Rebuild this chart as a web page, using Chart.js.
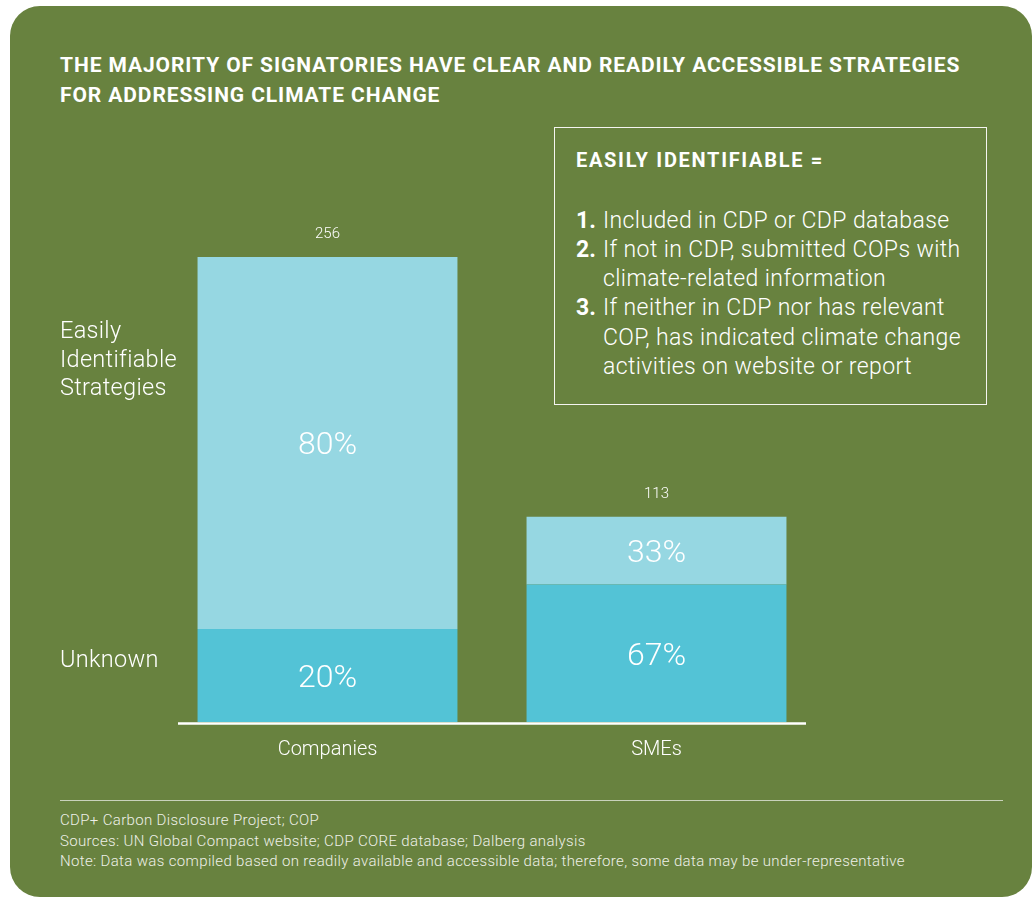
<!DOCTYPE html>
<html><head><meta charset="utf-8">
<script src="https://cdn.jsdelivr.net/npm/chart.js@4.4.1/dist/chart.umd.min.js"></script>
<style>
html,body{margin:0;padding:0;background:#fff;}
body{width:1034px;height:898px;position:relative;overflow:hidden;font-family:Roboto,"Open Sans",sans-serif;}
#panel{position:absolute;left:10px;top:6px;width:1022px;height:891px;background:#68823F;border-radius:30px;}
#title{position:absolute;left:60px;top:50px;color:#fff;font-weight:700;font-size:21px;letter-spacing:0.9px;line-height:30px;white-space:nowrap;}
#box{position:absolute;left:554px;top:127px;width:433px;height:278px;border:1.5px solid #f4f4f0;box-sizing:border-box;}
#boxtitle{position:absolute;left:576px;top:149px;color:#fff;font-weight:700;font-size:20px;letter-spacing:1.7px;line-height:22px;white-space:nowrap;}
#boxlist{position:absolute;left:576px;top:205.5px;color:#fff;font-weight:300;font-size:23px;letter-spacing:0.4px;line-height:29.3px;white-space:nowrap;}
#boxlist .n{font-weight:700;display:inline-block;width:27px;letter-spacing:0;}
#boxlist .c{padding-left:27px;}
#sep{position:absolute;left:60px;top:799.5px;width:943px;height:1.5px;background:#c9d2bb;}
#foot{position:absolute;left:60px;top:810px;color:#eef0e8;font-weight:300;font-size:15px;letter-spacing:0.35px;line-height:20.5px;white-space:nowrap;}
#wrap{position:absolute;left:0;top:0;width:1034px;height:898px;}
</style></head>
<body>
<div id="panel"></div>
<div id="title">THE MAJORITY OF SIGNATORIES HAVE CLEAR AND READILY ACCESSIBLE STRATEGIES<br>FOR ADDRESSING CLIMATE CHANGE</div>
<div id="box"></div>
<div id="boxtitle">EASILY IDENTIFIABLE =</div>
<div id="boxlist">
<div><span class="n">1.</span>Included in CDP or CDP database</div>
<div><span class="n">2.</span>If not in CDP, submitted COPs with</div>
<div class="c">climate-related information</div>
<div><span class="n">3.</span>If neither in CDP nor has relevant</div>
<div class="c">COP, has indicated climate change</div>
<div class="c">activities on website or report</div>
</div>
<div id="sep"></div>
<div id="foot">CDP+ Carbon Disclosure Project; COP<br>Sources: UN Global Compact website; CDP CORE database; Dalberg analysis<br>Note: Data was compiled based on readily available and accessible data; therefore, some data may be under-representative</div>
<div id="wrap"><canvas id="c"></canvas></div>
<script>
// ---- data ----
const categories = ['Companies', 'SMEs'];
const totals = [256, 113];
const unknownPct = [20, 67];
const easilyPct = [80, 33];
const seriesLabelLines = [['Unknown'], ['Easily', 'Identifiable', 'Strategies']];
const seriesNames = ['Unknown', 'Easily Identifiable Strategies'];

const unknownVals = totals.map((t, i) => t * unknownPct[i] / 100);
const easilyVals = totals.map((t, i) => t * easilyPct[i] / 100);
const pcts = [unknownPct, easilyPct];

const overlay = {
  id: 'overlay',
  afterDatasetsDraw(chart) {
    const ctx = chart.ctx;
    const area = chart.chartArea;
    ctx.save();
    // axis line
    ctx.strokeStyle = '#ffffff';
    ctx.lineWidth = 2.5;
    ctx.beginPath();
    ctx.moveTo(area.left + 15, area.bottom + 1.5);
    ctx.lineTo(area.right - 15, area.bottom + 1.5);
    ctx.stroke();
    // segment labels
    ctx.fillStyle = '#ffffff';
    ctx.textAlign = 'center';
    ctx.textBaseline = 'alphabetic';
    ctx.font = '300 32px Roboto';
    chart.data.datasets.forEach((ds, i) => {
      const meta = chart.getDatasetMeta(i);
      meta.data.forEach((bar, j) => {
        const p = bar.getProps(['x', 'y', 'base'], true);
        const cy = (p.y + p.base) / 2;
        ctx.fillText(pcts[i][j] + '%', p.x, cy + 11.4);
      });
    });
    // totals
    ctx.font = '300 15px Roboto';
    const lastMeta = chart.getDatasetMeta(chart.data.datasets.length - 1);
    lastMeta.data.forEach((bar, j) => {
      const p = bar.getProps(['x', 'y'], true);
      ctx.fillText(String(totals[j]), p.x, p.y - 19);
    });
    // series labels on the left
    ctx.textAlign = 'left';
    ctx.font = '300 23.5px Roboto';
    try { ctx.letterSpacing = '0.3px'; } catch (e) {}
    const unkBase = [667];
    seriesLabelLines[0].forEach((t, k) => ctx.fillText(t, 60, unkBase[k]));
    const easyBase = [338, 367, 395];
    seriesLabelLines[1].forEach((t, k) => ctx.fillText(t, 60, easyBase[k]));
    ctx.restore();
  }
};

new Chart(document.getElementById('c'), {
  type: 'bar',
  data: {
    labels: categories,
    datasets: [
      { label: seriesNames[0], data: unknownVals, backgroundColor: '#53C3D6', borderWidth: 0 },
      { label: seriesNames[1], data: easilyVals, backgroundColor: '#96D7E2', borderWidth: 0 }
    ]
  },
  options: {
    responsive: true,
    maintainAspectRatio: false,
    animation: false,
    devicePixelRatio: 1,
    layout: { padding: { left: 163, right: 213, top: 177, bottom: 0 } },
    categoryPercentage: 1,
    barPercentage: 0.79,
    plugins: { legend: { display: false }, tooltip: { enabled: false } },
    scales: {
      x: {
        stacked: true,
        grid: { display: false, drawTicks: false },
        border: { display: false },
        ticks: { color: '#ffffff', font: { family: 'Roboto', size: 20, weight: 300 }, padding: 16 },
        afterFit: (s) => { s.height = 176; }
      },
      y: {
        stacked: true,
        display: false,
        min: 0,
        max: 300
      }
    }
  },
  plugins: [overlay]
});
</script>
</body></html>
